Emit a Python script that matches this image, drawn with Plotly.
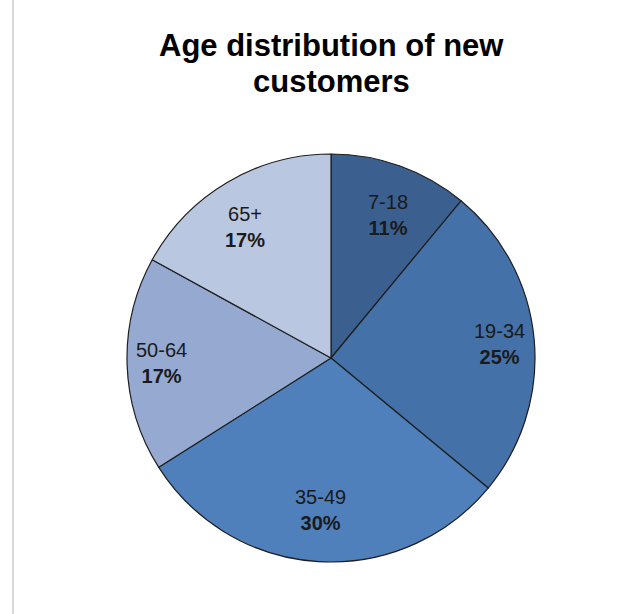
import math
import plotly.graph_objects as go

# Age groups of new customers and their share (%)
age_groups = ["7-18", "19-34", "35-49", "50-64", "65+"]
shares = [11, 25, 30, 17, 17]
slice_colors = ["#3B5F8F", "#4471A7", "#4F80BC", "#95A9D1", "#BAC7E0"]

# Title, one entry per line
title_lines = ["Age distribution of new", "customers"]

W, H = 639, 614
CX, CY, R = 331, 358, 204  # pie centre and radius in pixels
LABEL_RX, LABEL_RY = 0.83 * R, 0.745 * R  # label boxes sit on an ellipse inside the pie

FONT = "Liberation Sans, Arial, sans-serif"

fig = go.Figure()

fig.add_trace(go.Pie(
    labels=age_groups,
    values=shares,
    sort=False,
    direction="clockwise",
    rotation=0,
    marker=dict(colors=slice_colors, line=dict(color="#1E1E1E", width=1.2)),
    textinfo="none",
    hoverinfo="label+percent",
    showlegend=False,
    domain=dict(
        x=[(CX - R) / W, (CX + R) / W],
        y=[1 - (CY + R) / H, 1 - (CY - R) / H],
    ),
))

# Slice labels: age group on top, bold percentage below, placed along each slice's mid-angle
total = sum(shares)
cum = 0
for grp, val in zip(age_groups, shares):
    mid = (cum + val / 2) / total * 2 * math.pi
    cum += val
    px = CX + LABEL_RX * math.sin(mid)
    py = CY - LABEL_RY * math.cos(mid)
    fig.add_annotation(
        x=px / W, y=1 - py / H, xref="paper", yref="paper",
        xanchor="center", yanchor="middle",
        text=f"{grp}<br><b>{val}%</b>",
        showarrow=False,
        font=dict(family=FONT, size=20, color="#1A1A1A"),
        align="center",
    )

# Chart title, two centred lines
for i, line in enumerate(title_lines):
    fig.add_annotation(
        x=CX / W, y=1 - (45 + 36 * i) / H, xref="paper", yref="paper",
        xanchor="center", yanchor="middle",
        text=f"<b>{line}</b>",
        showarrow=False,
        font=dict(family=FONT, size=31, color="#000000"),
    )

# thin frame line on the left edge
fig.add_shape(type="line", xref="paper", yref="paper",
              x0=13 / W, x1=13 / W, y0=0, y1=1,
              line=dict(color="#D9D9D9", width=2))

fig.update_layout(
    width=W, height=H,
    margin=dict(l=0, r=0, t=0, b=0),
    paper_bgcolor="white",
    plot_bgcolor="white",
)

fig.write_html("out.html")
